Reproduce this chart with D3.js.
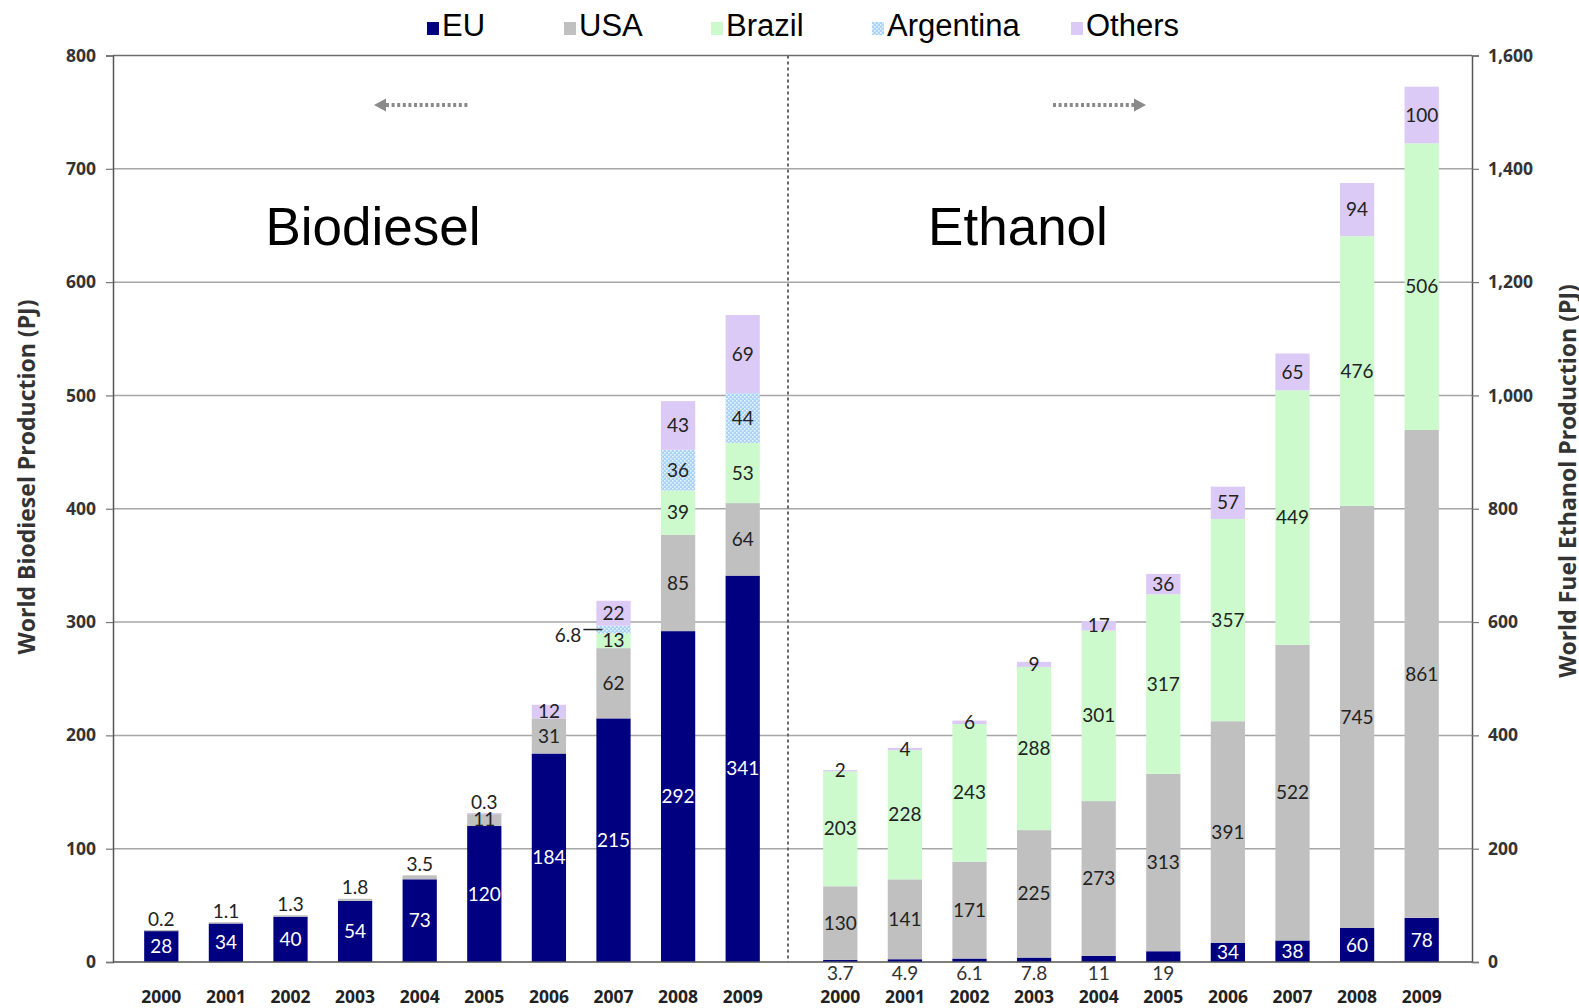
<!DOCTYPE html>
<html>
<head>
<meta charset="utf-8">
<script src="https://cdn.jsdelivr.net/npm/d3@7"></script>
<style>
  html, body { margin: 0; padding: 0; background: #fff; }
  svg { display: block; }
</style>
</head>
<body>
<svg id="chart" width="1579" height="1008"></svg>
<script>
// ---- data (PJ) ----
const years = ["2000","2001","2002","2003","2004","2005","2006","2007","2008","2009"];
const seriesKeys = ["EU","USA","Brazil","Argentina","Others"];

// biodiesel, left axis
const bioEU        = [28, 34, 40, 54, 73, 120, 184, 215, 292, 341];
const bioUSA       = [0.2, 1.1, 1.3, 1.8, 3.5, 11, 31, 62, 85, 64];
const bioBrazil    = [0, 0, 0, 0, 0, 0, 0, 13, 39, 53];
const bioArgentina = [0, 0, 0, 0, 0, 0, 0, 6.8, 36, 44];
const bioOthers    = [0, 0, 0, 0, 0, 0.3, 12, 22, 43, 69];

// fuel ethanol, right axis
const ethEU        = [3.7, 4.9, 6.1, 7.8, 11, 19, 34, 38, 60, 78];
const ethUSA       = [130, 141, 171, 225, 273, 313, 391, 522, 745, 861];
const ethBrazil    = [203, 228, 243, 288, 301, 317, 357, 449, 476, 506];
const ethArgentina = [0, 0, 0, 0, 0, 0, 0, 0, 0, 0];
const ethOthers    = [2, 4, 6, 9, 17, 36, 57, 65, 94, 100];

const leftTicks  = [0, 100, 200, 300, 400, 500, 600, 700, 800];
const rightTicks = [0, 200, 400, 600, 800, 1000, 1200, 1400, 1600];

const colors = { EU: "#000080", USA: "#c0c0c0", Brazil: "#ccfacc", Argentina: "url(#argPattern)", Others: "#dccaf6" };

// ---- layout ----
const plot = { left: 113, right: 1472, top: 55.5, bottom: 962 };
const svg = d3.select("#chart");

const defs = svg.append("defs");
const pat = defs.append("pattern").attr("id", "argPattern")
  .attr("patternUnits", "userSpaceOnUse").attr("width", 4).attr("height", 4);
pat.append("rect").attr("width", 4).attr("height", 4).attr("fill", "#a9d2f6");
pat.append("rect").attr("x", 0).attr("y", 0).attr("width", 1.6).attr("height", 1.6).attr("fill", "#e8f4ff");
pat.append("rect").attr("x", 2).attr("y", 2).attr("width", 1.6).attr("height", 1.6).attr("fill", "#e8f4ff");

const yL = d3.scaleLinear().domain([0, 800]).range([plot.bottom, plot.top]);
const yR = d3.scaleLinear().domain([0, 1600]).range([plot.bottom, plot.top]);
const xBio = d3.scaleBand().domain(years).range([129, 775]).paddingInner(0.47).paddingOuter(0.235);
const xEth = d3.scaleBand().domain(years).range([808, 1454]).paddingInner(0.47).paddingOuter(0.235);

// gridlines
svg.append("g").selectAll("line").data(leftTicks.slice(1, -1)).join("line")
  .attr("x1", plot.left).attr("x2", plot.right)
  .attr("y1", d => yL(d)).attr("y2", d => yL(d))
  .attr("stroke", "#a6a6a6").attr("stroke-width", 1.5);

// frame: top border
svg.append("line").attr("x1", plot.left).attr("x2", plot.right)
  .attr("y1", plot.top).attr("y2", plot.top).attr("stroke", "#6b6b6b").attr("stroke-width", 1.5);

// divider between the two panels
svg.append("line").attr("x1", 788).attr("x2", 788)
  .attr("y1", plot.top).attr("y2", plot.bottom)
  .attr("stroke", "#666").attr("stroke-width", 2).attr("stroke-dasharray", "3,3");

function rows(eu, usa, br, ar, ot) {
  return years.map((y, i) => ({ year: y, EU: eu[i], USA: usa[i], Brazil: br[i], Argentina: ar[i], Others: ot[i] }));
}
const bioRows = rows(bioEU, bioUSA, bioBrazil, bioArgentina, bioOthers);
const ethRows = rows(ethEU, ethUSA, ethBrazil, ethArgentina, ethOthers);
const stack = d3.stack().keys(seriesKeys);

const labelFont = "Lato, 'Open Sans', sans-serif";

function drawPanel(data, x, y, placeLabel) {
  const stacked = stack(data);
  const g = svg.append("g");
  stacked.forEach(layer => {
    g.append("g").selectAll("rect")
      .data(layer.filter(d => d.data[layer.key] > 0)).join("rect")
      .attr("x", d => x(d.data.year))
      .attr("width", x.bandwidth())
      .attr("y", d => y(d[1]))
      .attr("height", d => Math.max(y(d[0]) - y(d[1]), 1.2))
      .attr("fill", colors[layer.key]);
  });
  const lg = svg.append("g").attr("font-family", labelFont).attr("font-size", 19);
  stacked.forEach(layer => {
    layer.forEach(d => {
      const v = d.data[layer.key];
      if (!(v > 0)) return;
      const top = d3.sum(seriesKeys, k => d.data[k]);
      const cx = x(d.data.year) + x.bandwidth() / 2;
      const mode = placeLabel(layer.key, v);
      let tx = cx, ty = (y(d[0]) + y(d[1])) / 2, fill = "#222", anchor = "middle";
      if (mode === "white") fill = "#fff";
      if (mode === "above") ty = y(top) - 11;
      if (mode === "below") { ty = plot.bottom + 11; fill = "#333"; }
      if (mode === "left") {
        lg.append("line").attr("x1", x(d.data.year) - 13).attr("x2", x(d.data.year) + 6)
          .attr("y1", ty).attr("y2", ty).attr("stroke", "#222").attr("stroke-width", 1.5);
        tx = x(d.data.year) - 15; ty = ty + 6; anchor = "end";
      }
      lg.append("text").attr("x", tx).attr("y", ty).attr("dy", "0.35em")
        .attr("text-anchor", anchor).attr("fill", fill).text(String(v));
    });
  });
}

drawPanel(bioRows, xBio, yL, (k, v) => {
  if (k === "EU") return "white";
  if (k === "USA") return v < 5 ? "above" : "in";
  if (k === "Argentina") return v < 10 ? "left" : "in";
  if (k === "Others") return v < 1 ? "above" : "in";
  return "in";
});
drawPanel(ethRows, xEth, yR, (k, v) => {
  if (k === "EU") return v < 30 ? "below" : "white";
  return "in";
});

// baseline and side axes
svg.append("line").attr("x1", plot.left).attr("x2", plot.right)
  .attr("y1", plot.bottom).attr("y2", plot.bottom).attr("stroke", "#555").attr("stroke-width", 1.5);

const axisFont = "'Open Sans', sans-serif";
const axL = svg.append("g").attr("transform", `translate(${plot.left},0)`)
  .call(d3.axisLeft(yL).tickValues(leftTicks).tickSize(7).tickPadding(10).tickFormat(d3.format("d")));
const axR = svg.append("g").attr("transform", `translate(${plot.right},0)`)
  .call(d3.axisRight(yR).tickValues(rightTicks).tickSize(7).tickPadding(9).tickFormat(d3.format(",")));
[axL, axR].forEach(a => {
  a.select(".domain").attr("stroke", "#555").attr("stroke-width", 1.5);
  a.selectAll(".tick line").attr("stroke", "#777").attr("stroke-width", 1.2);
  a.selectAll(".tick text").attr("font-family", axisFont).attr("font-weight", 700)
    .attr("font-size", 17.5).attr("fill", "#333");
});

// year labels under both panels
[xBio, xEth].forEach(x => {
  svg.append("g").selectAll("text").data(years).join("text")
    .attr("x", d => x(d) + x.bandwidth() / 2).attr("y", 1003)
    .attr("text-anchor", "middle").attr("font-family", axisFont).attr("font-weight", 700)
    .attr("font-size", 17.5).attr("fill", "#222").text(d => d);
});

// axis titles
svg.append("text").attr("transform", "translate(35,477) rotate(-90)")
  .attr("text-anchor", "middle").attr("font-family", axisFont).attr("font-weight", 700)
  .attr("font-size", 23).attr("fill", "#333").text("World Biodiesel Production (PJ)");
svg.append("text").attr("transform", "translate(1576,481) rotate(-90)")
  .attr("text-anchor", "middle").attr("font-family", axisFont).attr("font-weight", 700)
  .attr("font-size", 23).attr("fill", "#333").text("World Fuel Ethanol Production (PJ)");

// panel titles
svg.append("text").attr("x", 373).attr("y", 245).attr("text-anchor", "middle")
  .attr("font-family", "'Liberation Sans', Arial, sans-serif").attr("font-size", 53).text("Biodiesel");
svg.append("text").attr("x", 1018).attr("y", 245).attr("text-anchor", "middle")
  .attr("font-family", "'Liberation Sans', Arial, sans-serif").attr("font-size", 53).text("Ethanol");

// direction arrows pointing to each panel's axis
const arrowColor = "#8a8a8a";
svg.append("line").attr("x1", 386).attr("x2", 468).attr("y1", 105).attr("y2", 105)
  .attr("stroke", arrowColor).attr("stroke-width", 4).attr("stroke-dasharray", "3,2.6");
svg.append("path").attr("d", "M374,105 L386,98.5 L386,111.5 Z").attr("fill", arrowColor);
svg.append("line").attr("x1", 1053).attr("x2", 1134).attr("y1", 105).attr("y2", 105)
  .attr("stroke", arrowColor).attr("stroke-width", 4).attr("stroke-dasharray", "3,2.6");
svg.append("path").attr("d", "M1146,105 L1134,98.5 L1134,111.5 Z").attr("fill", arrowColor);

// legend
const legendX = [427, 564, 711, 872, 1071];
const leg = svg.append("g");
seriesKeys.forEach((k, i) => {
  leg.append("rect").attr("x", legendX[i]).attr("y", 22).attr("width", 12).attr("height", 13).attr("fill", colors[k]);
  leg.append("text").attr("x", legendX[i] + 15).attr("y", 36)
    .attr("font-family", "'Liberation Sans', Arial, sans-serif").attr("font-size", 31)
    .attr("fill", "#000").text(k);
});
</script>
</body>
</html>
